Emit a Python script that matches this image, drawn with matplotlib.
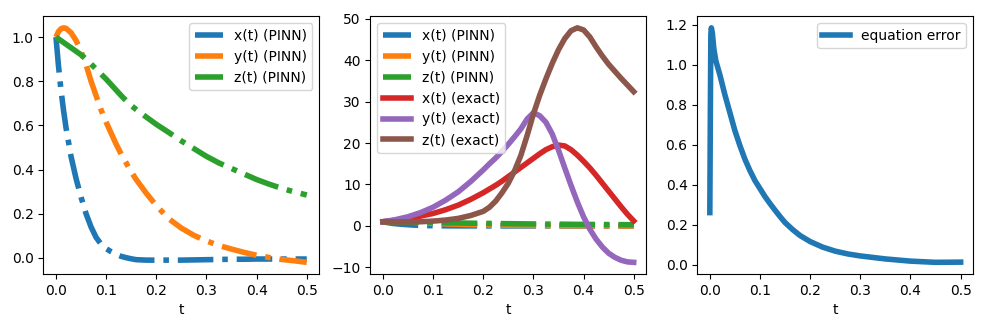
import numpy as np
import matplotlib
matplotlib.use("Agg")
import matplotlib.pyplot as plt

# PINN solution
t_pinn = [0, 0.005, 0.01, 0.015, 0.02, 0.03, 0.04, 0.05, 0.06, 0.07, 0.08, 0.09, 0.1,
          0.11, 0.12, 0.13, 0.14, 0.15, 0.16, 0.18, 0.2, 0.225, 0.25, 0.275, 0.3,
          0.325, 0.35, 0.375, 0.4, 0.425, 0.45, 0.475, 0.5]
x_pinn = [1.0, 0.87, 0.76, 0.67, 0.59, 0.46, 0.36, 0.275, 0.2, 0.14, 0.093, 0.062, 0.042,
          0.028, 0.016, 0.007, 0.001, -0.004, -0.008, -0.01, -0.01, -0.01, -0.01, -0.009, -0.008,
          -0.007, -0.006, -0.006, -0.005, -0.005, -0.005, -0.005, -0.005]
y_pinn = [1.0, 1.025, 1.038, 1.042, 1.04, 1.02, 0.985, 0.935, 0.875, 0.80, 0.735, 0.67, 0.615,
          0.565, 0.515, 0.47, 0.43, 0.39, 0.355, 0.293, 0.237, 0.177, 0.135, 0.102, 0.077,
          0.056, 0.04, 0.025, 0.012, 0.002, -0.007, -0.013, -0.02]
z_pinn = [1.0, 0.992, 0.984, 0.976, 0.968, 0.952, 0.936, 0.92, 0.9, 0.878, 0.855, 0.832, 0.81,
          0.785, 0.76, 0.735, 0.712, 0.69, 0.672, 0.638, 0.605, 0.568, 0.53, 0.495, 0.46,
          0.43, 0.405, 0.38, 0.355, 0.334, 0.315, 0.299, 0.285]

# exact solution (middle panel)
t_exact = [0, 0.025, 0.05, 0.075, 0.1, 0.125, 0.15, 0.175, 0.2,
           0.2125, 0.225, 0.2375, 0.25, 0.2625, 0.275, 0.2875, 0.3, 0.3125, 0.325, 0.3375,
           0.35, 0.3625, 0.375, 0.3875, 0.4, 0.4125, 0.425, 0.4375, 0.45, 0.4625, 0.475,
           0.4875, 0.5]
x_exact = [1, 1.35, 1.8, 2.35, 3.0, 3.9, 5.0, 6.4, 8.0,
           8.9, 9.8, 10.8, 11.9, 13.0, 14.1, 15.2, 16.3, 17.4, 18.4, 19.1,
           19.5, 19.3, 18.4, 17.1, 15.6, 14.0, 12.2, 10.3, 8.4, 6.5, 4.6,
           2.8, 1.2]
y_exact = [1, 1.5, 2.2, 3.2, 4.5, 6.2, 8.2, 10.7, 13.5,
           15.0, 16.4, 18.0, 19.7, 21.5, 23.4, 25.8, 27.3, 26.6, 25.0, 22.2,
           18.3, 14.0, 9.8, 5.8, 2.2, -0.8, -3.2, -5.1, -6.6, -7.6, -8.3,
           -8.7, -8.8]
z_exact = [1, 0.95, 0.95, 1.0, 1.15, 1.4, 1.8, 2.5, 3.5,
           4.5, 6.0, 8.0, 10.3, 13.3, 17.0, 21.8, 27.0, 31.5, 35.5, 39.2,
           42.5, 45.2, 47.1, 47.8, 47.3, 45.6, 43.2, 41.0, 39.0, 37.3, 35.6,
           34.0, 32.4]

# equation residual (right panel)
t_err = [0, 0.001, 0.002, 0.003, 0.005, 0.008, 0.012, 0.02, 0.03, 0.04, 0.05, 0.06, 0.07,
         0.08, 0.09, 0.1, 0.11, 0.12, 0.13, 0.14, 0.15, 0.165, 0.18, 0.2, 0.225, 0.25,
         0.275, 0.3, 0.35, 0.4, 0.45, 0.5]
err = [0.26, 0.75, 1.15, 1.185, 1.16, 1.08, 1.02, 0.95, 0.85, 0.76, 0.67, 0.595, 0.527,
       0.47, 0.42, 0.38, 0.34, 0.305, 0.272, 0.24, 0.21, 0.175, 0.145, 0.115, 0.087, 0.067,
       0.053, 0.043, 0.028, 0.017, 0.011, 0.012]

lw = 4

fig, axes = plt.subplots(1, 3, figsize=(9.87, 3.29), dpi=100)
fig.subplots_adjust(left=0.044, right=0.986, bottom=0.167, top=0.951, wspace=0.185)

ax = axes[0]
ax.plot(t_pinn, x_pinn, '-.', lw=lw, label='x(t) (PINN)')
ax.plot(t_pinn, y_pinn, '-.', lw=lw, label='y(t) (PINN)')
ax.plot(t_pinn, z_pinn, '-.', lw=lw, label='z(t) (PINN)')
ax.set_xlabel('t')
ax.legend(loc='upper right')

ax = axes[1]
ax.plot(t_pinn, x_pinn, '-.', lw=lw, label='x(t) (PINN)')
ax.plot(t_pinn, y_pinn, '-.', lw=lw, label='y(t) (PINN)')
ax.plot(t_pinn, z_pinn, '-.', lw=lw, label='z(t) (PINN)')
ax.plot(t_exact, x_exact, '-', lw=lw, label='x(t) (exact)')
ax.plot(t_exact, y_exact, '-', lw=lw, label='y(t) (exact)')
ax.plot(t_exact, z_exact, '-', lw=lw, label='z(t) (exact)')
ax.set_xlabel('t')
ax.legend(loc='upper left')

ax = axes[2]
ax.plot(t_err, err, '-', lw=lw, label='equation error')
ax.set_xlabel('t')
ax.legend(loc='upper right')

plt.savefig('out.png')
